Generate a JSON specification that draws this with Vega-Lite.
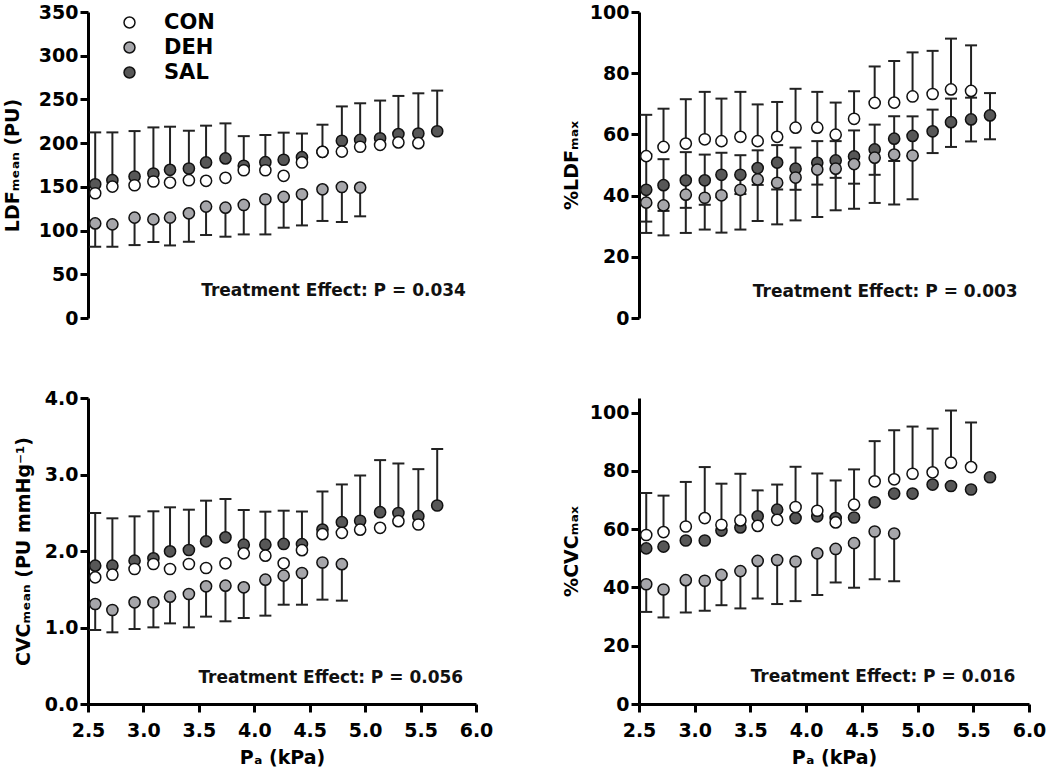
{
"$schema": "https://vega.github.io/schema/vega-lite/v6.json",
"background": "white",
"padding": {"left": 3, "top": 3, "right": 5, "bottom": 5},
"config": {
  "font": "DejaVu Sans",
  "view": {"stroke": null},
  "axis": {"domainColor": "#000", "domainWidth": 3, "tickColor": "#000", "tickWidth": 3, "tickSize": 8,
    "labelFont": "DejaVu Sans", "labelFontSize": 19, "labelFontWeight": "bold", "labelColor": "#000", "labelPadding": 2,
    "labelFlush": false, "labelOverlap": false,
    "titleFont": "DejaVu Sans", "titleFontSize": 19, "titleFontWeight": "bold", "titleColor": "#000", "grid": false}
},
"datasets": {
  "ldf": [
    {"g":"SAL","x":2.565,"y":153,"up":212.3},
    {"g":"SAL","x":2.72,"y":157.6,"up":212.3},
    {"g":"SAL","x":2.92,"y":161.8,"up":213.8},
    {"g":"SAL","x":3.09,"y":165.3,"up":218},
    {"g":"SAL","x":3.24,"y":169.5,"up":218.8},
    {"g":"SAL","x":3.41,"y":171,"up":214.2},
    {"g":"SAL","x":3.565,"y":177.9,"up":220},
    {"g":"SAL","x":3.74,"y":182.5,"up":222.6},
    {"g":"SAL","x":3.905,"y":174.1,"up":208},
    {"g":"SAL","x":4.1,"y":178.2,"up":209.3},
    {"g":"SAL","x":4.265,"y":181,"up":212},
    {"g":"SAL","x":4.43,"y":184,"up":211},
    {"g":"SAL","x":4.615,"y":190,"up":221.1},
    {"g":"SAL","x":4.79,"y":202.7,"up":242},
    {"g":"SAL","x":4.955,"y":203.7,"up":245.6},
    {"g":"SAL","x":5.135,"y":205.6,"up":248.7},
    {"g":"SAL","x":5.3,"y":210.4,"up":254},
    {"g":"SAL","x":5.48,"y":211,"up":257},
    {"g":"SAL","x":5.65,"y":213.6,"up":260.1},
    {"g":"DEH","x":2.565,"y":108.2,"dn":81.5},
    {"g":"DEH","x":2.72,"y":107.1,"dn":81.5},
    {"g":"DEH","x":2.92,"y":114.8,"dn":83.4},
    {"g":"DEH","x":3.09,"y":112.8,"dn":86.9},
    {"g":"DEH","x":3.24,"y":114.8,"dn":83},
    {"g":"DEH","x":3.41,"y":119.7,"dn":87.2},
    {"g":"DEH","x":3.565,"y":127.4,"dn":94.9},
    {"g":"DEH","x":3.74,"y":126.2,"dn":93},
    {"g":"DEH","x":3.905,"y":129.3,"dn":95.6},
    {"g":"DEH","x":4.1,"y":135.8,"dn":95.6},
    {"g":"DEH","x":4.265,"y":138.5,"dn":103.3},
    {"g":"DEH","x":4.43,"y":141.5,"dn":105.9},
    {"g":"DEH","x":4.615,"y":147.2,"dn":111},
    {"g":"DEH","x":4.79,"y":149.8,"dn":109.8},
    {"g":"DEH","x":4.955,"y":149.2,"dn":116.3},
    {"g":"CON","x":2.565,"y":142.7},
    {"g":"CON","x":2.72,"y":150.3},
    {"g":"CON","x":2.92,"y":151.8},
    {"g":"CON","x":3.09,"y":156.1},
    {"g":"CON","x":3.24,"y":154.9},
    {"g":"CON","x":3.41,"y":157.6},
    {"g":"CON","x":3.565,"y":156.9},
    {"g":"CON","x":3.74,"y":160.3},
    {"g":"CON","x":3.905,"y":169},
    {"g":"CON","x":4.1,"y":169},
    {"g":"CON","x":4.265,"y":162.6},
    {"g":"CON","x":4.43,"y":177.9},
    {"g":"CON","x":4.615,"y":190.1},
    {"g":"CON","x":4.79,"y":190.3},
    {"g":"CON","x":4.955,"y":195.9},
    {"g":"CON","x":5.135,"y":198},
    {"g":"CON","x":5.3,"y":200.8},
    {"g":"CON","x":5.48,"y":200}
  ],
  "ldfmax": [
    {"g":"SAL","x":2.565,"y":41.9,"up":53.5,"dn":31.5},
    {"g":"SAL","x":2.72,"y":43.4,"up":51.9,"dn":35},
    {"g":"SAL","x":2.92,"y":45,"up":54.2,"dn":36},
    {"g":"SAL","x":3.09,"y":45,"up":53.4,"dn":37},
    {"g":"SAL","x":3.24,"y":46.8,"up":54,"dn":39.5},
    {"g":"SAL","x":3.41,"y":46.8,"up":53.2,"dn":40.5},
    {"g":"SAL","x":3.565,"y":49,"up":54.8,"dn":43.5},
    {"g":"SAL","x":3.74,"y":50.8,"up":56.5,"dn":42},
    {"g":"SAL","x":3.905,"y":48.8,"up":55.7,"dn":41.9},
    {"g":"SAL","x":4.1,"y":50.7,"up":57.8,"dn":43.6},
    {"g":"SAL","x":4.265,"y":51.5,"up":57.8,"dn":45.8},
    {"g":"SAL","x":4.43,"y":52.8,"up":61.3,"dn":43.9},
    {"g":"SAL","x":4.615,"y":55.1,"up":63.2,"dn":46.8},
    {"g":"SAL","x":4.79,"y":58.6,"up":65.9,"dn":51.3},
    {"g":"SAL","x":4.955,"y":59.5,"up":65.9,"dn":53},
    {"g":"SAL","x":5.135,"y":61,"up":68.1,"dn":53.9},
    {"g":"SAL","x":5.3,"y":64,"up":71.7,"dn":55.9},
    {"g":"SAL","x":5.48,"y":64.9,"up":72,"dn":57.7},
    {"g":"SAL","x":5.65,"y":66.2,"up":73.5,"dn":58.4},
    {"g":"DEH","x":2.565,"y":37.7,"dn":27.8},
    {"g":"DEH","x":2.72,"y":36.8,"dn":27},
    {"g":"DEH","x":2.92,"y":40.3,"dn":27.8},
    {"g":"DEH","x":3.09,"y":39.3,"dn":28.9},
    {"g":"DEH","x":3.24,"y":40.1,"dn":27.9},
    {"g":"DEH","x":3.41,"y":41.9,"dn":28.9},
    {"g":"DEH","x":3.565,"y":45.3,"dn":31.7},
    {"g":"DEH","x":3.74,"y":44.2,"dn":30.6},
    {"g":"DEH","x":3.905,"y":45.9,"dn":31.9},
    {"g":"DEH","x":4.1,"y":48.5,"dn":33},
    {"g":"DEH","x":4.265,"y":48.8,"dn":35.2},
    {"g":"DEH","x":4.43,"y":50.3,"dn":35.7},
    {"g":"DEH","x":4.615,"y":52.4,"dn":37.6},
    {"g":"DEH","x":4.79,"y":53.4,"dn":37.1},
    {"g":"DEH","x":4.955,"y":53.1,"dn":38.8},
    {"g":"CON","x":2.565,"y":52.9,"up":66.4},
    {"g":"CON","x":2.72,"y":55.9,"up":68.4},
    {"g":"CON","x":2.92,"y":57,"up":71.5},
    {"g":"CON","x":3.09,"y":58.4,"up":73.9},
    {"g":"CON","x":3.24,"y":57.8,"up":71.7},
    {"g":"CON","x":3.41,"y":59.2,"up":73.9},
    {"g":"CON","x":3.565,"y":57.8,"up":69.8},
    {"g":"CON","x":3.74,"y":59.2,"up":70.6},
    {"g":"CON","x":3.905,"y":62.2,"up":74.9},
    {"g":"CON","x":4.1,"y":62.2,"up":73.9},
    {"g":"CON","x":4.265,"y":59.9,"up":70.4},
    {"g":"CON","x":4.43,"y":65.1,"up":74.1},
    {"g":"CON","x":4.615,"y":70.3,"up":82.2},
    {"g":"CON","x":4.79,"y":70.4,"up":84},
    {"g":"CON","x":4.955,"y":72.4,"up":86.8},
    {"g":"CON","x":5.135,"y":73.2,"up":87.3},
    {"g":"CON","x":5.3,"y":74.7,"up":91.3},
    {"g":"CON","x":5.48,"y":74.2,"up":89.1}
  ],
  "cvc": [
    {"g":"SAL","x":2.565,"y":1.808,"up":2.497},
    {"g":"SAL","x":2.72,"y":1.808,"up":2.427},
    {"g":"SAL","x":2.92,"y":1.874,"up":2.453},
    {"g":"SAL","x":3.09,"y":1.904,"up":2.519},
    {"g":"SAL","x":3.24,"y":1.996,"up":2.571},
    {"g":"SAL","x":3.41,"y":2.013,"up":2.54},
    {"g":"SAL","x":3.565,"y":2.126,"up":2.658},
    {"g":"SAL","x":3.74,"y":2.179,"up":2.68},
    {"g":"SAL","x":3.905,"y":2.083,"up":2.536},
    {"g":"SAL","x":4.1,"y":2.083,"up":2.514},
    {"g":"SAL","x":4.265,"y":2.092,"up":2.527},
    {"g":"SAL","x":4.43,"y":2.09,"up":2.516},
    {"g":"SAL","x":4.615,"y":2.28,"up":2.778},
    {"g":"SAL","x":4.79,"y":2.377,"up":2.87},
    {"g":"SAL","x":4.955,"y":2.395,"up":2.987},
    {"g":"SAL","x":5.135,"y":2.507,"up":3.188},
    {"g":"SAL","x":5.3,"y":2.497,"up":3.144},
    {"g":"SAL","x":5.48,"y":2.455,"up":3.07},
    {"g":"SAL","x":5.65,"y":2.595,"up":3.333},
    {"g":"DEH","x":2.565,"y":1.307,"dn":0.967},
    {"g":"DEH","x":2.72,"y":1.229,"dn":0.937},
    {"g":"DEH","x":2.92,"y":1.329,"dn":0.98},
    {"g":"DEH","x":3.09,"y":1.329,"dn":1.002},
    {"g":"DEH","x":3.24,"y":1.403,"dn":1.054},
    {"g":"DEH","x":3.41,"y":1.438,"dn":1.002},
    {"g":"DEH","x":3.565,"y":1.538,"dn":1.142},
    {"g":"DEH","x":3.74,"y":1.547,"dn":1.081},
    {"g":"DEH","x":3.905,"y":1.525,"dn":1.124},
    {"g":"DEH","x":4.1,"y":1.625,"dn":1.155},
    {"g":"DEH","x":4.265,"y":1.678,"dn":1.298},
    {"g":"DEH","x":4.43,"y":1.712,"dn":1.298},
    {"g":"DEH","x":4.615,"y":1.85,"dn":1.364},
    {"g":"DEH","x":4.79,"y":1.828,"dn":1.351},
    {"g":"CON","x":2.565,"y":1.656},
    {"g":"CON","x":2.72,"y":1.69},
    {"g":"CON","x":2.92,"y":1.765},
    {"g":"CON","x":3.09,"y":1.83},
    {"g":"CON","x":3.24,"y":1.765},
    {"g":"CON","x":3.41,"y":1.83},
    {"g":"CON","x":3.565,"y":1.778},
    {"g":"CON","x":3.74,"y":1.839},
    {"g":"CON","x":3.905,"y":1.969},
    {"g":"CON","x":4.1,"y":1.939},
    {"g":"CON","x":4.265,"y":1.839},
    {"g":"CON","x":4.43,"y":2.011},
    {"g":"CON","x":4.615,"y":2.22},
    {"g":"CON","x":4.79,"y":2.237},
    {"g":"CON","x":4.955,"y":2.279},
    {"g":"CON","x":5.135,"y":2.303},
    {"g":"CON","x":5.3,"y":2.39},
    {"g":"CON","x":5.48,"y":2.346}
  ],
  "cvcmax": [
    {"g":"SAL","x":2.565,"y":53.4},
    {"g":"SAL","x":2.72,"y":54},
    {"g":"SAL","x":2.92,"y":56.1},
    {"g":"SAL","x":3.09,"y":56.1},
    {"g":"SAL","x":3.24,"y":59.5},
    {"g":"SAL","x":3.41,"y":60.6},
    {"g":"SAL","x":3.565,"y":64.4},
    {"g":"SAL","x":3.74,"y":66.7},
    {"g":"SAL","x":3.905,"y":63.8},
    {"g":"SAL","x":4.1,"y":64.4},
    {"g":"SAL","x":4.265,"y":63.8},
    {"g":"SAL","x":4.43,"y":64},
    {"g":"SAL","x":4.615,"y":69.2},
    {"g":"SAL","x":4.79,"y":72.2},
    {"g":"SAL","x":4.955,"y":72.2},
    {"g":"SAL","x":5.135,"y":75.3},
    {"g":"SAL","x":5.3,"y":74.8},
    {"g":"SAL","x":5.48,"y":73.6},
    {"g":"SAL","x":5.65,"y":77.8},
    {"g":"DEH","x":2.565,"y":41.1,"dn":31.6},
    {"g":"DEH","x":2.72,"y":39.3,"dn":29.7},
    {"g":"DEH","x":2.92,"y":42.5,"dn":31.4},
    {"g":"DEH","x":3.09,"y":42.3,"dn":32},
    {"g":"DEH","x":3.24,"y":44.3,"dn":33.9},
    {"g":"DEH","x":3.41,"y":45.6,"dn":32.8},
    {"g":"DEH","x":3.565,"y":49.1,"dn":36.2},
    {"g":"DEH","x":3.74,"y":49.4,"dn":34.3},
    {"g":"DEH","x":3.905,"y":48.9,"dn":35.3},
    {"g":"DEH","x":4.1,"y":51.7,"dn":37.4},
    {"g":"DEH","x":4.265,"y":53.2,"dn":41.7},
    {"g":"DEH","x":4.43,"y":55.2,"dn":39.9},
    {"g":"DEH","x":4.615,"y":59.2,"dn":42.8},
    {"g":"DEH","x":4.79,"y":58.5,"dn":42.1},
    {"g":"CON","x":2.565,"y":58,"up":72.4},
    {"g":"CON","x":2.72,"y":59,"up":71.5},
    {"g":"CON","x":2.92,"y":60.9,"up":76.2},
    {"g":"CON","x":3.09,"y":63.8,"up":81.3},
    {"g":"CON","x":3.24,"y":61.5,"up":75.6},
    {"g":"CON","x":3.41,"y":63,"up":79},
    {"g":"CON","x":3.565,"y":61.1,"up":73.3},
    {"g":"CON","x":3.74,"y":63.2,"up":75.3},
    {"g":"CON","x":3.905,"y":67.6,"up":81.4},
    {"g":"CON","x":4.1,"y":66.3,"up":79.1},
    {"g":"CON","x":4.265,"y":62.3,"up":76.7},
    {"g":"CON","x":4.43,"y":68.4,"up":80.5},
    {"g":"CON","x":4.615,"y":76.4,"up":90.2},
    {"g":"CON","x":4.79,"y":77.1,"up":93.9},
    {"g":"CON","x":4.955,"y":79,"up":95.2},
    {"g":"CON","x":5.135,"y":79.5,"up":94.5},
    {"g":"CON","x":5.3,"y":82.8,"up":100.7},
    {"g":"CON","x":5.48,"y":81.3,"up":96.6}
  ],
  "notes": [
    {"panel":"ldf","x":4.715,"y":31,"label":"Treatment Effect: P = 0.034"},
    {"panel":"ldfmax","x":4.71,"y":8.5,"label":"Treatment Effect: P = 0.003"},
    {"panel":"cvc","x":4.69,"y":0.344,"label":"Treatment Effect: P = 0.056"},
    {"panel":"cvcmax","x":4.69,"y":9.2,"label":"Treatment Effect: P = 0.016"}
  ]
},
"concat": [
  {
    "width": 388, "height": 306,
    "data": {"name": "ldf"},
    "encoding": {"x": {"field": "x", "type": "quantitative", "scale": {"domain": [2.5, 6]}, "axis": null}},
    "layer": [
      {"transform": [{"filter": "isValid(datum.up)"}], "mark": {"type": "rule", "color": "#222", "strokeWidth": 2},
       "encoding": {"y": {"field": "y", "type": "quantitative", "scale": {"domain": [0, 350]}, "axis": {"values": [0,50,100,150,200,250,300,350], "title": "LDFₘₑₐₙ (PU)", "titlePadding": 16}}, "y2": {"field": "up"}}},
      {"transform": [{"filter": "isValid(datum.dn)"}], "mark": {"type": "rule", "color": "#222", "strokeWidth": 2},
       "encoding": {"y": {"field": "dn", "type": "quantitative", "scale": {"domain": [0, 350]}, "axis": {"values": [0,50,100,150,200,250,300,350], "title": "LDFₘₑₐₙ (PU)", "titlePadding": 16}}, "y2": {"field": "y"}}},
      {"transform": [{"filter": "isValid(datum.up)"}], "mark": {"type": "tick", "orient": "horizontal", "size": 12, "thickness": 2, "color": "#222", "opacity": 1},
       "encoding": {"y": {"field": "up", "type": "quantitative", "scale": {"domain": [0, 350]}, "axis": {"values": [0,50,100,150,200,250,300,350], "title": "LDFₘₑₐₙ (PU)", "titlePadding": 16}}}},
      {"transform": [{"filter": "isValid(datum.dn)"}], "mark": {"type": "tick", "orient": "horizontal", "size": 12, "thickness": 2, "color": "#222", "opacity": 1},
       "encoding": {"y": {"field": "dn", "type": "quantitative", "scale": {"domain": [0, 350]}, "axis": {"values": [0,50,100,150,200,250,300,350], "title": "LDFₘₑₐₙ (PU)", "titlePadding": 16}}}},
      {"mark": {"type": "circle", "size": 125, "stroke": "#111", "strokeWidth": 1.5, "opacity": 1},
       "encoding": {"y": {"field": "y", "type": "quantitative", "scale": {"domain": [0, 350]}, "axis": {"values": [0,50,100,150,200,250,300,350], "title": "LDFₘₑₐₙ (PU)", "titlePadding": 16}},
         "fill": {"field": "g", "type": "nominal", "scale": {"domain": ["CON","DEH","SAL"], "range": ["#ffffff","#a6a6aa","#575757"]},
           "legend": {"title": null, "orient": "none", "legendX": 31, "legendY": 0, "symbolType": "circle", "symbolSize": 120, "symbolStrokeColor": "#111", "symbolStrokeWidth": 1.5, "symbolOpacity": 1, "labelFont": "DejaVu Sans", "labelFontSize": 21, "labelFontWeight": "bold", "labelColor": "#000", "labelOffset": 24, "rowPadding": 3, "padding": 0}}}},
      {"data": {"name": "notes"}, "transform": [{"filter": "datum.panel == 'ldf'"}],
       "mark": {"type": "text", "font": "DejaVu Sans", "fontSize": 17, "fontWeight": "bold", "color": "#111", "align": "center", "baseline": "middle"},
       "encoding": {"y": {"field": "y", "type": "quantitative", "scale": {"domain": [0, 350]}, "axis": {"values": [0,50,100,150,200,250,300,350], "title": "LDFₘₑₐₙ (PU)", "titlePadding": 16}}, "text": {"field": "label"}}}
    ]
  },
  {
    "width": 390, "height": 306,
    "data": {"name": "ldfmax"},
    "encoding": {"x": {"field": "x", "type": "quantitative", "scale": {"domain": [2.5, 6]}, "axis": null}},
    "layer": [
      {"transform": [{"filter": "isValid(datum.up)"}], "mark": {"type": "rule", "color": "#222", "strokeWidth": 2},
       "encoding": {"y": {"field": "y", "type": "quantitative", "scale": {"domain": [0, 100]}, "axis": {"values": [0,20,40,60,80,100], "title": "%LDFₘₐₓ", "titlePadding": 8}}, "y2": {"field": "up"}}},
      {"transform": [{"filter": "isValid(datum.dn)"}], "mark": {"type": "rule", "color": "#222", "strokeWidth": 2},
       "encoding": {"y": {"field": "dn", "type": "quantitative", "scale": {"domain": [0, 100]}, "axis": {"values": [0,20,40,60,80,100], "title": "%LDFₘₐₓ", "titlePadding": 8}}, "y2": {"field": "y"}}},
      {"transform": [{"filter": "isValid(datum.up)"}], "mark": {"type": "tick", "orient": "horizontal", "size": 12, "thickness": 2, "color": "#222", "opacity": 1},
       "encoding": {"y": {"field": "up", "type": "quantitative", "scale": {"domain": [0, 100]}, "axis": {"values": [0,20,40,60,80,100], "title": "%LDFₘₐₓ", "titlePadding": 8}}}},
      {"transform": [{"filter": "isValid(datum.dn)"}], "mark": {"type": "tick", "orient": "horizontal", "size": 12, "thickness": 2, "color": "#222", "opacity": 1},
       "encoding": {"y": {"field": "dn", "type": "quantitative", "scale": {"domain": [0, 100]}, "axis": {"values": [0,20,40,60,80,100], "title": "%LDFₘₐₓ", "titlePadding": 8}}}},
      {"mark": {"type": "circle", "size": 125, "stroke": "#111", "strokeWidth": 1.5, "opacity": 1},
       "encoding": {"y": {"field": "y", "type": "quantitative", "scale": {"domain": [0, 100]}, "axis": {"values": [0,20,40,60,80,100], "title": "%LDFₘₐₓ", "titlePadding": 8}},
         "fill": {"field": "g", "type": "nominal", "scale": {"domain": ["CON","DEH","SAL"], "range": ["#ffffff","#a6a6aa","#575757"]}, "legend": null}}},
      {"data": {"name": "notes"}, "transform": [{"filter": "datum.panel == 'ldfmax'"}],
       "mark": {"type": "text", "font": "DejaVu Sans", "fontSize": 17, "fontWeight": "bold", "color": "#111", "align": "center", "baseline": "middle"},
       "encoding": {"y": {"field": "y", "type": "quantitative", "scale": {"domain": [0, 100]}, "axis": {"values": [0,20,40,60,80,100], "title": "%LDFₘₐₓ", "titlePadding": 8}}, "text": {"field": "label"}}}
    ]
  },
  {
    "width": 388, "height": 306,
    "data": {"name": "cvc"},
    "encoding": {"x": {"field": "x", "type": "quantitative", "scale": {"domain": [2.5, 6]}, "axis": {"values": [2.5,3,3.5,4,4.5,5,5.5,6], "format": ".1f", "title": "Pₐ (kPa)", "labelPadding": 9, "titlePadding": 8}}},
    "layer": [
      {"transform": [{"filter": "isValid(datum.up)"}], "mark": {"type": "rule", "color": "#222", "strokeWidth": 2},
       "encoding": {"y": {"field": "y", "type": "quantitative", "scale": {"domain": [0, 4]}, "axis": {"values": [0,1,2,3,4], "format": ".1f", "title": "CVCₘₑₐₙ  (PU mmHg⁻¹)", "titlePadding": 11}}, "y2": {"field": "up"}}},
      {"transform": [{"filter": "isValid(datum.dn)"}], "mark": {"type": "rule", "color": "#222", "strokeWidth": 2},
       "encoding": {"y": {"field": "dn", "type": "quantitative", "scale": {"domain": [0, 4]}, "axis": {"values": [0,1,2,3,4], "format": ".1f", "title": "CVCₘₑₐₙ  (PU mmHg⁻¹)", "titlePadding": 11}}, "y2": {"field": "y"}}},
      {"transform": [{"filter": "isValid(datum.up)"}], "mark": {"type": "tick", "orient": "horizontal", "size": 12, "thickness": 2, "color": "#222", "opacity": 1},
       "encoding": {"y": {"field": "up", "type": "quantitative", "scale": {"domain": [0, 4]}, "axis": {"values": [0,1,2,3,4], "format": ".1f", "title": "CVCₘₑₐₙ  (PU mmHg⁻¹)", "titlePadding": 11}}}},
      {"transform": [{"filter": "isValid(datum.dn)"}], "mark": {"type": "tick", "orient": "horizontal", "size": 12, "thickness": 2, "color": "#222", "opacity": 1},
       "encoding": {"y": {"field": "dn", "type": "quantitative", "scale": {"domain": [0, 4]}, "axis": {"values": [0,1,2,3,4], "format": ".1f", "title": "CVCₘₑₐₙ  (PU mmHg⁻¹)", "titlePadding": 11}}}},
      {"mark": {"type": "circle", "size": 125, "stroke": "#111", "strokeWidth": 1.5, "opacity": 1},
       "encoding": {"y": {"field": "y", "type": "quantitative", "scale": {"domain": [0, 4]}, "axis": {"values": [0,1,2,3,4], "format": ".1f", "title": "CVCₘₑₐₙ  (PU mmHg⁻¹)", "titlePadding": 11}},
         "fill": {"field": "g", "type": "nominal", "scale": {"domain": ["CON","DEH","SAL"], "range": ["#ffffff","#a6a6aa","#575757"]}, "legend": null}}},
      {"data": {"name": "notes"}, "transform": [{"filter": "datum.panel == 'cvc'"}],
       "mark": {"type": "text", "font": "DejaVu Sans", "fontSize": 17, "fontWeight": "bold", "color": "#111", "align": "center", "baseline": "middle"},
       "encoding": {"y": {"field": "y", "type": "quantitative", "scale": {"domain": [0, 4]}, "axis": {"values": [0,1,2,3,4], "format": ".1f", "title": "CVCₘₑₐₙ  (PU mmHg⁻¹)", "titlePadding": 11}}, "text": {"field": "label"}}}
    ]
  },
  {
    "width": 390, "height": 306,
    "data": {"name": "cvcmax"},
    "encoding": {"x": {"field": "x", "type": "quantitative", "scale": {"domain": [2.5, 6]}, "axis": {"values": [2.5,3,3.5,4,4.5,5,5.5,6], "format": ".1f", "title": "Pₐ (kPa)", "labelPadding": 9, "titlePadding": 8}}},
    "layer": [
      {"transform": [{"filter": "isValid(datum.up)"}], "mark": {"type": "rule", "color": "#222", "strokeWidth": 2},
       "encoding": {"y": {"field": "y", "type": "quantitative", "scale": {"domain": [0, 105]}, "axis": {"values": [0,20,40,60,80,100], "title": "%CVCₘₐₓ", "titlePadding": 8}}, "y2": {"field": "up"}}},
      {"transform": [{"filter": "isValid(datum.dn)"}], "mark": {"type": "rule", "color": "#222", "strokeWidth": 2},
       "encoding": {"y": {"field": "dn", "type": "quantitative", "scale": {"domain": [0, 105]}, "axis": {"values": [0,20,40,60,80,100], "title": "%CVCₘₐₓ", "titlePadding": 8}}, "y2": {"field": "y"}}},
      {"transform": [{"filter": "isValid(datum.up)"}], "mark": {"type": "tick", "orient": "horizontal", "size": 12, "thickness": 2, "color": "#222", "opacity": 1},
       "encoding": {"y": {"field": "up", "type": "quantitative", "scale": {"domain": [0, 105]}, "axis": {"values": [0,20,40,60,80,100], "title": "%CVCₘₐₓ", "titlePadding": 8}}}},
      {"transform": [{"filter": "isValid(datum.dn)"}], "mark": {"type": "tick", "orient": "horizontal", "size": 12, "thickness": 2, "color": "#222", "opacity": 1},
       "encoding": {"y": {"field": "dn", "type": "quantitative", "scale": {"domain": [0, 105]}, "axis": {"values": [0,20,40,60,80,100], "title": "%CVCₘₐₓ", "titlePadding": 8}}}},
      {"mark": {"type": "circle", "size": 125, "stroke": "#111", "strokeWidth": 1.5, "opacity": 1},
       "encoding": {"y": {"field": "y", "type": "quantitative", "scale": {"domain": [0, 105]}, "axis": {"values": [0,20,40,60,80,100], "title": "%CVCₘₐₓ", "titlePadding": 8}},
         "fill": {"field": "g", "type": "nominal", "scale": {"domain": ["CON","DEH","SAL"], "range": ["#ffffff","#a6a6aa","#575757"]}, "legend": null}}},
      {"data": {"name": "notes"}, "transform": [{"filter": "datum.panel == 'cvcmax'"}],
       "mark": {"type": "text", "font": "DejaVu Sans", "fontSize": 17, "fontWeight": "bold", "color": "#111", "align": "center", "baseline": "middle"},
       "encoding": {"y": {"field": "y", "type": "quantitative", "scale": {"domain": [0, 105]}, "axis": {"values": [0,20,40,60,80,100], "title": "%CVCₘₐₓ", "titlePadding": 8}}, "text": {"field": "label"}}}
    ]
  }
],
"columns": 2,
"spacing": {"row": 80, "column": 163},
"bounds": "flush",
"resolve": {"scale": {"y": "independent"}, "axis": {"y": "independent"}}
}
